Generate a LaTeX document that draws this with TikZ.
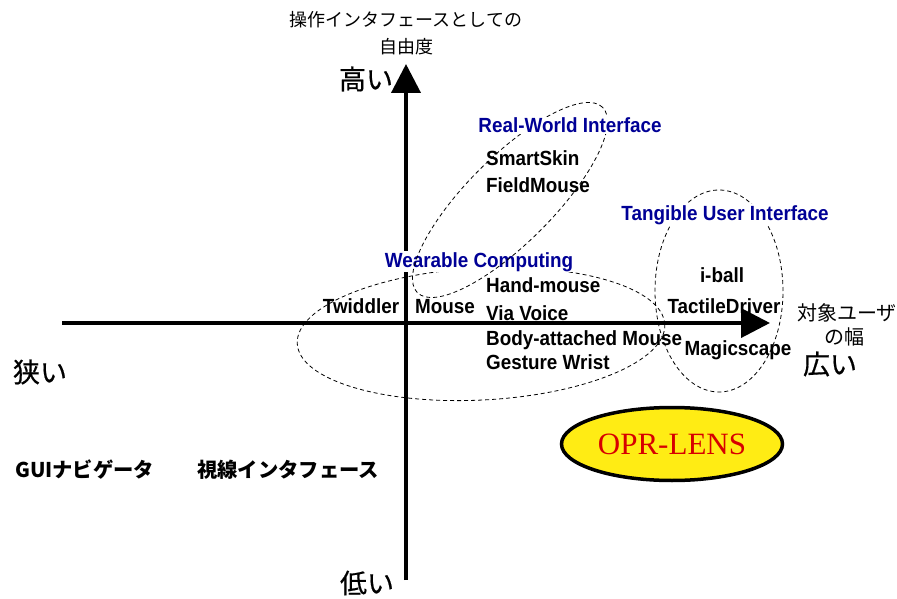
\documentclass[tikz,border=0pt]{standalone}
\usepackage{fontspec}
\setmainfont{Liberation Sans}
\newfontfamily\itemfont[FakeStretch=0.92]{Liberation Sans Bold}
\newfontfamily\jpfont{Noto Sans CJK JP}
\newfontfamily\jpmed[FakeBold=0.6]{Noto Sans CJK JP}
\newfontfamily\lensfont{Liberation Serif}
\usetikzlibrary{arrows.meta,shapes.geometric}
\definecolor{grpblue}{RGB}{0,0,150}
\definecolor{lensred}{RGB}{215,0,0}
\definecolor{lensyellow}{RGB}{255,236,20}
\begin{document}
\begin{tikzpicture}[x=1pt,y=1pt,
  item/.style={font=\itemfont\fontsize{20.5}{22}\selectfont, inner sep=0pt},
  grp/.style={item, text=grpblue, fill=white, inner sep=1pt},
  jpsmall/.style={font=\jpfont\fontsize{18}{20}\selectfont, inner sep=0pt},
  jpbig/.style={font=\jpmed\fontsize{27}{30}\selectfont, inner sep=0pt},
  jpbold/.style={font=\jpfont\bfseries\fontsize{20.3}{22}\selectfont, inner sep=0pt},
  axisline/.style={line width=4pt, -{Triangle[length=29pt,width=29pt]}},
  ring/.style={draw, line width=0.8pt, dash pattern=on 4pt off 3pt},
]
\useasboundingbox (0,0) rectangle (897,-599);

% wearable ring (behind axes)
\draw[ring, rotate around={3:(481,-334)}] (481,-334) ellipse [x radius=184, y radius=66];

% axes
\coordinate (vb) at (406,-580);
\coordinate (vt) at (406,-64);
\coordinate (hl) at (62,-323);
\coordinate (hr) at (770,-323);
\draw[axisline] (vb) -- (vt);
\draw[axisline] (hl) -- (hr);

% wearable label
\node[grp, anchor=base] (wear) at (479,-267) {Wearable Computing};

% real-world ring and label
\draw[ring, rotate around={45:(510,-200)}] (510,-200) ellipse [x radius=131, y radius=43];
\node[grp, anchor=base] (rwi) at (570,-133) {Real-World Interface};

% tangible ring and label
\draw[ring] (719,-291) ellipse [x radius=64, y radius=101];
\node[grp, anchor=base] (tui) at (725,-220) {Tangible User Interface};

% items
\node[item, anchor=base west] (smart) at (486,-165) {SmartSkin};
\node[item, anchor=base west] (field) at (486,-193) {FieldMouse};
\node[item, anchor=base west] (hand) at (486,-292) {Hand-mouse};
\node[item, anchor=base west] (via) at (486,-320) {Via Voice};
\node[item, anchor=base west] (body) at (486,-345) {Body-attached Mouse};
\node[item, anchor=base west] (gest) at (486,-369) {Gesture Wrist};
\node[item, anchor=base] (twid) at (361,-313) {Twiddler};
\node[item, anchor=base] (mouse) at (445,-313) {Mouse};
\node[item, anchor=base] (iball) at (722,-282) {i-ball};
\node[item, anchor=base] (tact) at (724,-313) {TactileDriver};
\node[item, anchor=base] (magic) at (738,-355) {Magicscape};

% Japanese texts
\node[jpsmall] (t1) at (406,-20) {操作インタフェースとしての};
\node[jpsmall] (t2) at (406,-47) {自由度};
\node[jpbig] (high) at (366,-79) {高い};
\node[jpbig] (low) at (367,-583) {低い};
\node[jpbig] (narrow) at (40,-372) {狭い};
\node[jpbig] (wide) at (830,-364) {広い};
\node[jpsmall, font=\jpfont\fontsize{20}{22}\selectfont] (u1) at (847,-313) {対象ユーザ};
\node[jpsmall, font=\jpfont\fontsize{20}{22}\selectfont] (u2) at (844,-337) {の幅};
\node[jpbold, anchor=west] (gui) at (15,-470) {GUIナビゲータ};
\node[jpbold, anchor=west] (gaze) at (197,-470) {視線インタフェース};

% OPR-LENS
\node[ellipse, draw, line width=3.5pt, fill=lensyellow, minimum width=221pt, minimum height=73pt, inner sep=0pt,
      font=\lensfont\fontsize{31}{34}\selectfont, text=lensred] (lens) at (672,-444) {OPR-LENS};
\end{tikzpicture}
\end{document}
